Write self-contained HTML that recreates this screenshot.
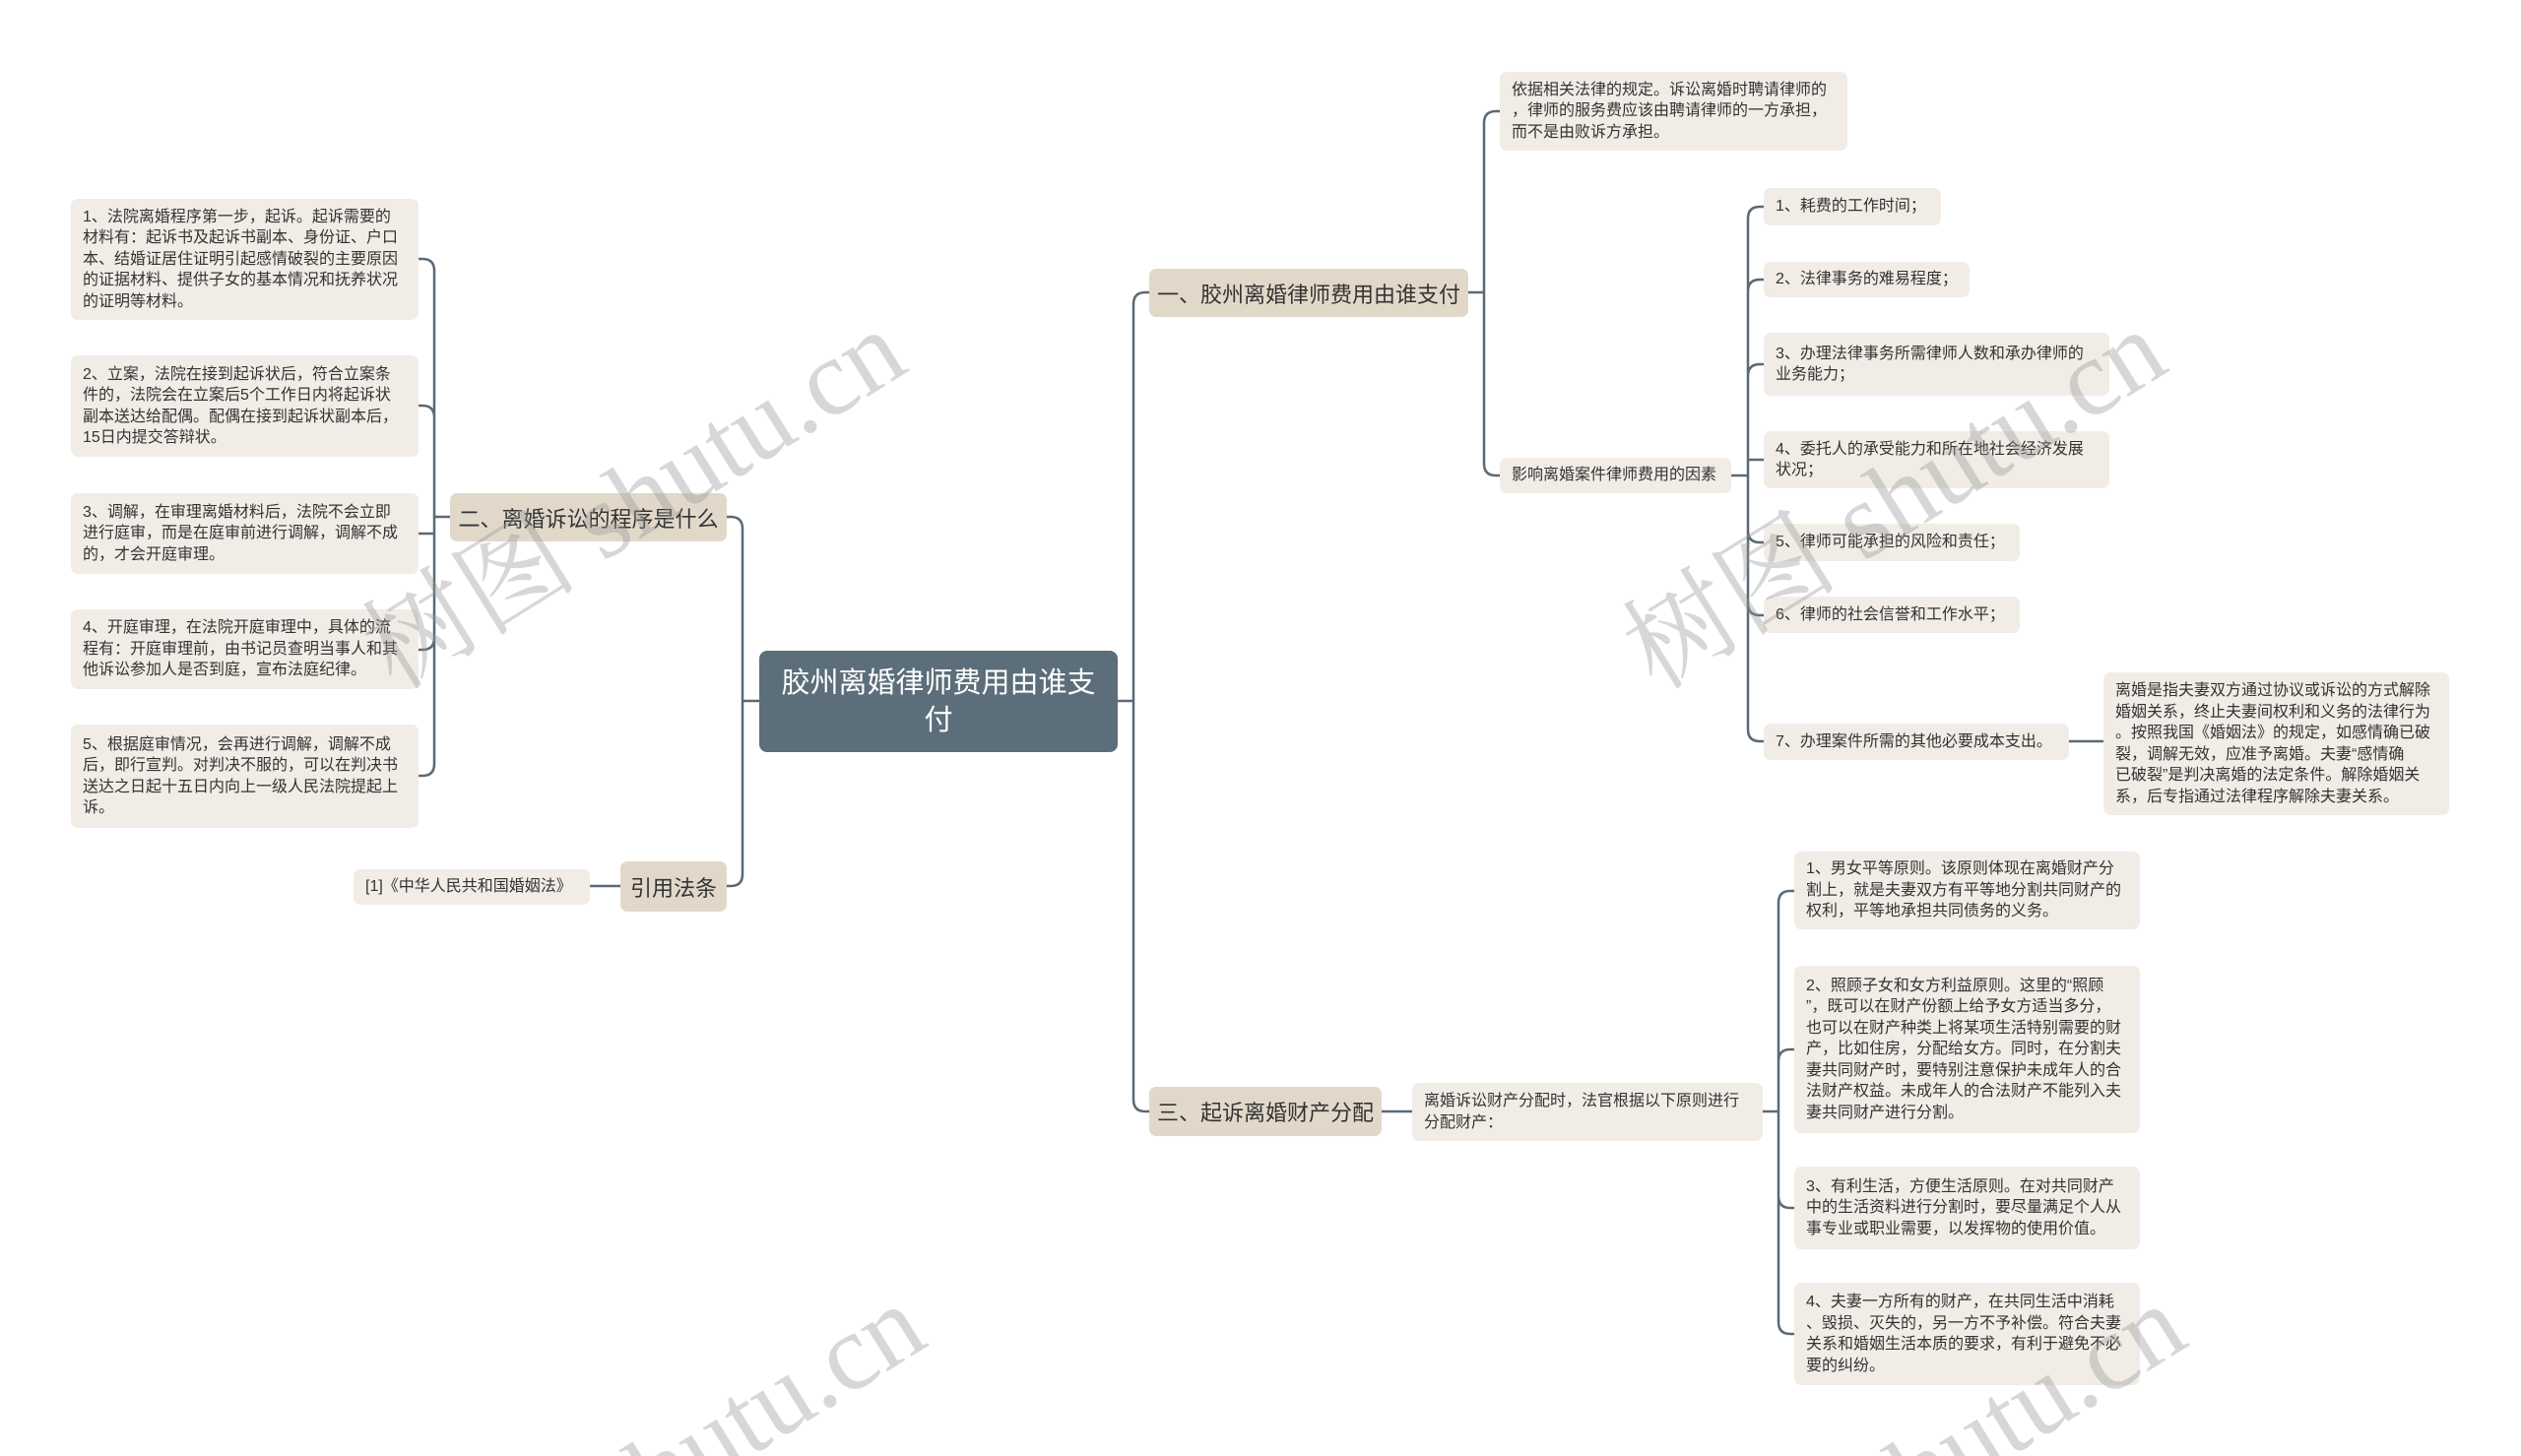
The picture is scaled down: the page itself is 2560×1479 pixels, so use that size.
<!DOCTYPE html>
<html><head><meta charset="utf-8">
<style>
html,body{margin:0;padding:0;background:#fff;width:2560px;height:1479px;overflow:hidden;}
body{position:relative;font-family:"Liberation Sans","Noto Sans CJK SC",sans-serif;color:#333;}
.n{position:absolute;box-sizing:border-box;border-radius:7px;white-space:nowrap;}
.leaf{background:#f1ede6;font-size:16px;line-height:21.5px;padding:0 12px;display:flex;flex-direction:column;justify-content:center;}
.br{background:#e2d8ca;font-size:22px;display:flex;align-items:center;justify-content:center;}
.root{background:#5b6e7a;color:#fff;font-size:29px;line-height:38px;text-align:center;display:flex;align-items:center;justify-content:center;border-radius:8px;}
svg{position:absolute;left:0;top:0;}
.clip{position:absolute;left:0;top:0;width:2560px;height:1479px;overflow:hidden;}
.wm{position:absolute;font-family:"Liberation Serif","Noto Serif CJK SC",serif;font-size:110px;color:rgba(150,150,150,0.38);transform:rotate(-32deg);white-space:nowrap;}
</style></head><body>
<svg width="2560" height="1479" fill="none" stroke="#5a6975" stroke-width="2.5">
<path d="M771,712 H754 M754,537 V888 M754,537 Q754,525 742,525 H738 M754,888 Q754,900 742,900 H738"/>
<path d="M1135,712 H1151 M1151,309 V1117 M1151,309 Q1151,297 1163,297 H1167 M1151,1117 Q1151,1129 1163,1129 H1167"/>
<path d="M457,525 H441 M441,275 V776
M441,275 Q441,263 429,263 H425
M441,424 Q441,412 429,412 H425
M441,542 H425
M441,648 Q441,660 429,660 H425
M441,776 Q441,788 429,788 H425"/>
<path d="M630,900 H599"/>
<path d="M1491,297 H1507 M1507,125 V471 M1507,125 Q1507,113 1519,113 H1523 M1507,471 Q1507,483 1519,483 H1523"/>
<path d="M1758,483 H1775 M1775,222 V741
M1775,222 Q1775,210 1787,210 H1791
M1775,296 Q1775,284 1787,284 H1791
M1775,382 Q1775,370 1787,370 H1791
M1775,467 H1791
M1775,539 Q1775,551 1787,551 H1791
M1775,613 Q1775,625 1787,625 H1791
M1775,741 Q1775,753 1787,753 H1791"/>
<path d="M2101,753 H2136"/>
<path d="M1403,1129 H1434 M1790,1129 H1806 M1806,917 V1343
M1806,917 Q1806,905 1818,905 H1822
M1806,1078 Q1806,1066 1818,1066 H1822
M1806,1215 Q1806,1227 1818,1227 H1822
M1806,1343 Q1806,1355 1818,1355 H1822"/>
</svg>

<div class="n root" style="left:771px;top:661px;width:364px;height:103px;">胶州离婚律师费用由谁支<br>付</div>

<div class="n br" style="left:1167px;top:273px;width:324px;height:49px;">一、胶州离婚律师费用由谁支付</div>
<div class="n br" style="left:457px;top:501px;width:281px;height:49px;">二、离婚诉讼的程序是什么</div>
<div class="n br" style="left:1167px;top:1104px;width:236px;height:50px;">三、起诉离婚财产分配</div>
<div class="n br" style="left:630px;top:875px;width:108px;height:51px;">引用法条</div>

<div class="n leaf" style="left:72px;top:202px;width:353px;height:123px;">1、法院离婚程序第一步，起诉。起诉需要的<br>材料有：起诉书及起诉书副本、身份证、户口<br>本、结婚证居住证明引起感情破裂的主要原因<br>的证据材料、提供子女的基本情况和抚养状况<br>的证明等材料。</div>
<div class="n leaf" style="left:72px;top:361px;width:353px;height:103px;">2、立案，法院在接到起诉状后，符合立案条<br>件的，法院会在立案后5个工作日内将起诉状<br>副本送达给配偶。配偶在接到起诉状副本后，<br>15日内提交答辩状。</div>
<div class="n leaf" style="left:72px;top:501px;width:353px;height:82px;">3、调解，在审理离婚材料后，法院不会立即<br>进行庭审，而是在庭审前进行调解，调解不成<br>的，才会开庭审理。</div>
<div class="n leaf" style="left:72px;top:619px;width:353px;height:81px;">4、开庭审理，在法院开庭审理中，具体的流<br>程有：开庭审理前，由书记员查明当事人和其<br>他诉讼参加人是否到庭，宣布法庭纪律。</div>
<div class="n leaf" style="left:72px;top:736px;width:353px;height:105px;">5、根据庭审情况，会再进行调解，调解不成<br>后，即行宣判。对判决不服的，可以在判决书<br>送达之日起十五日内向上一级人民法院提起上<br>诉。</div>
<div class="n leaf" style="left:359px;top:883px;width:240px;height:36px;">[1]《中华人民共和国婚姻法》</div>

<div class="n leaf" style="left:1523px;top:73px;width:353px;height:80px;">依据相关法律的规定。诉讼离婚时聘请律师的<br>，律师的服务费应该由聘请律师的一方承担，<br>而不是由败诉方承担。</div>
<div class="n leaf" style="left:1523px;top:465px;width:235px;height:36px;">影响离婚案件律师费用的因素</div>
<div class="n leaf" style="left:1791px;top:191px;width:180px;height:38px;">1、耗费的工作时间；</div>
<div class="n leaf" style="left:1791px;top:266px;width:209px;height:36px;">2、法律事务的难易程度；</div>
<div class="n leaf" style="left:1791px;top:338px;width:351px;height:64px;">3、办理法律事务所需律师人数和承办律师的<br>业务能力；</div>
<div class="n leaf" style="left:1791px;top:438px;width:351px;height:58px;">4、委托人的承受能力和所在地社会经济发展<br>状况；</div>
<div class="n leaf" style="left:1791px;top:532px;width:260px;height:38px;">5、律师可能承担的风险和责任；</div>
<div class="n leaf" style="left:1791px;top:606px;width:260px;height:37px;">6、律师的社会信誉和工作水平；</div>
<div class="n leaf" style="left:1791px;top:735px;width:310px;height:37px;">7、办理案件所需的其他必要成本支出。</div>
<div class="n leaf" style="left:2136px;top:683px;width:351px;height:145px;">离婚是指夫妻双方通过协议或诉讼的方式解除<br>婚姻关系，终止夫妻间权利和义务的法律行为<br>。按照我国《婚姻法》的规定，如感情确已破<br>裂，调解无效，应准予离婚。夫妻“感情确<br>已破裂”是判决离婚的法定条件。解除婚姻关<br>系，后专指通过法律程序解除夫妻关系。</div>

<div class="n leaf" style="left:1434px;top:1100px;width:356px;height:59px;">离婚诉讼财产分配时，法官根据以下原则进行<br>分配财产：</div>
<div class="n leaf" style="left:1822px;top:865px;width:351px;height:79px;">1、男女平等原则。该原则体现在离婚财产分<br>割上，就是夫妻双方有平等地分割共同财产的<br>权利，平等地承担共同债务的义务。</div>
<div class="n leaf" style="left:1822px;top:981px;width:351px;height:170px;">2、照顾子女和女方利益原则。这里的“照顾<br>”，既可以在财产份额上给予女方适当多分，<br>也可以在财产种类上将某项生活特别需要的财<br>产，比如住房，分配给女方。同时，在分割夫<br>妻共同财产时，要特别注意保护未成年人的合<br>法财产权益。未成年人的合法财产不能列入夫<br>妻共同财产进行分割。</div>
<div class="n leaf" style="left:1822px;top:1185px;width:351px;height:84px;">3、有利生活，方便生活原则。在对共同财产<br>中的生活资料进行分割时，要尽量满足个人从<br>事专业或职业需要，以发挥物的使用价值。</div>
<div class="n leaf" style="left:1822px;top:1303px;width:351px;height:104px;">4、夫妻一方所有的财产，在共同生活中消耗<br>、毁损、灭失的，另一方不予补偿。符合夫妻<br>关系和婚姻生活本质的要求，有利于避免不必<br>要的纠纷。</div>

<div class="clip">
<div class="wm" style="left:330px;top:420px;">树图 shutu.cn</div>
<div class="wm" style="left:1610px;top:420px;">树图 shutu.cn</div>
<div class="wm" style="left:350px;top:1410px;">树图 shutu.cn</div>
<div class="wm" style="left:1630px;top:1410px;">树图 shutu.cn</div>
</div>
</body></html>
